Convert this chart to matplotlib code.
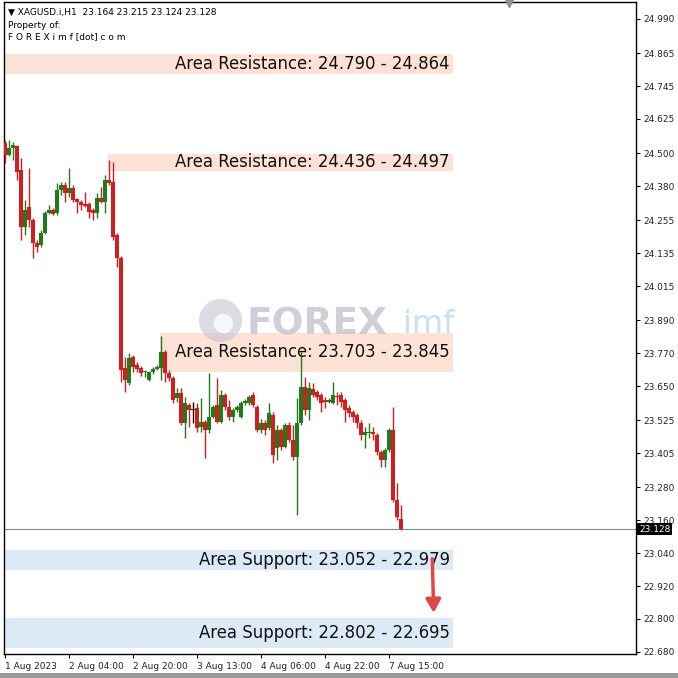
import numpy as np
import matplotlib
matplotlib.use("Agg")
import matplotlib.pyplot as plt
from matplotlib.patches import Rectangle

# hourly candles XAGUSD.i H1, 1 Aug 12:00 .. 7 Aug 18:00
opens = [24.537, 24.494, 24.519, 24.526, 24.439, 24.231, 24.304, 24.256, 24.172, 24.165,
         24.209, 24.281, 24.293, 24.281, 24.366, 24.384, 24.355, 24.373, 24.333, 24.322,
         24.315, 24.315, 24.293, 24.281, 24.337, 24.322, 24.402, 24.395, 24.202, 24.118,
         23.716, 23.661, 23.756, 23.727, 23.716, 23.702, 23.672, 23.702, 23.712, 23.716,
         23.774, 23.698, 23.680, 23.607, 23.625, 23.515, 23.581, 23.563, 23.570, 23.501,
         23.519, 23.490, 23.537, 23.581, 23.519, 23.618, 23.574, 23.537, 23.563, 23.537,
         23.588, 23.588, 23.618, 23.574, 23.490, 23.515, 23.497, 23.545, 23.424, 23.490,
         23.428, 23.508, 23.453, 23.391, 23.515, 23.647, 23.563, 23.639, 23.629, 23.618,
         23.599, 23.592, 23.588, 23.614, 23.618, 23.599, 23.570, 23.556, 23.545, 23.515,
         23.472, 23.479, 23.482, 23.472, 23.409, 23.380, 23.417, 23.490, 23.234, 23.164]
highs = [24.548, 24.548, 24.541, 24.530, 24.483, 24.329, 24.446, 24.264, 24.183, 24.220,
         24.289, 24.311, 24.300, 24.391, 24.395, 24.395, 24.446, 24.384, 24.337, 24.329,
         24.359, 24.322, 24.300, 24.355, 24.377, 24.421, 24.475, 24.468, 24.209, 24.125,
         23.756, 23.771, 23.764, 23.738, 23.723, 23.709, 23.705, 23.720, 23.727, 23.833,
         23.782, 23.709, 23.687, 23.643, 23.643, 23.610, 23.588, 23.592, 23.588, 23.607,
         23.526, 23.698, 23.581, 23.680, 23.636, 23.625, 23.599, 23.570, 23.581, 23.596,
         23.603, 23.618, 23.629, 23.581, 23.530, 23.526, 23.588, 23.556, 23.508, 23.497,
         23.515, 23.519, 23.508, 23.607, 23.774, 23.683, 23.665, 23.661, 23.636, 23.625,
         23.610, 23.607, 23.665, 23.629, 23.629, 23.607, 23.581, 23.563, 23.552, 23.526,
         23.501, 23.515, 23.501, 23.479, 23.417, 23.424, 23.497, 23.574, 23.296, 23.215]
lows = [24.464, 24.490, 24.475, 24.402, 24.183, 24.202, 24.231, 24.118, 24.139, 24.158,
        24.205, 24.278, 24.274, 24.274, 24.348, 24.322, 24.340, 24.322, 24.281, 24.293,
        24.304, 24.264, 24.256, 24.264, 24.318, 24.281, 24.384, 24.183, 24.085, 23.665,
        23.629, 23.654, 23.702, 23.702, 23.687, 23.683, 23.669, 23.694, 23.709, 23.672,
        23.665, 23.669, 23.588, 23.592, 23.508, 23.461, 23.501, 23.515, 23.482, 23.482,
        23.388, 23.479, 23.533, 23.515, 23.515, 23.563, 23.526, 23.519, 23.556, 23.533,
        23.581, 23.581, 23.574, 23.482, 23.479, 23.472, 23.490, 23.369, 23.380, 23.417,
        23.424, 23.446, 23.380, 23.180, 23.508, 23.545, 23.526, 23.610, 23.599, 23.556,
        23.570, 23.588, 23.585, 23.581, 23.574, 23.519, 23.537, 23.519, 23.497, 23.453,
        23.424, 23.461, 23.453, 23.398, 23.355, 23.355, 23.409, 23.227, 23.161, 23.124]
closes = [24.494, 24.519, 24.530, 24.432, 24.231, 24.293, 24.256, 24.172, 24.158, 24.209,
          24.281, 24.293, 24.278, 24.366, 24.384, 24.355, 24.373, 24.329, 24.322, 24.311,
          24.307, 24.285, 24.281, 24.337, 24.322, 24.402, 24.391, 24.194, 24.118, 23.709,
          23.672, 23.753, 23.720, 23.712, 23.698, 23.705, 23.702, 23.712, 23.720, 23.774,
          23.698, 23.680, 23.599, 23.625, 23.515, 23.588, 23.563, 23.563, 23.497, 23.519,
          23.490, 23.537, 23.574, 23.519, 23.618, 23.574, 23.537, 23.563, 23.574, 23.588,
          23.596, 23.610, 23.581, 23.490, 23.515, 23.490, 23.552, 23.398, 23.490, 23.428,
          23.508, 23.453, 23.391, 23.515, 23.647, 23.563, 23.643, 23.618, 23.610, 23.588,
          23.592, 23.599, 23.618, 23.610, 23.592, 23.563, 23.552, 23.537, 23.515, 23.472,
          23.482, 23.482, 23.475, 23.409, 23.380, 23.417, 23.490, 23.234, 23.172, 23.128]

# date labels every 16 bars
time_labels = ["1 Aug 2023", "2 Aug 04:00", "2 Aug 20:00", "3 Aug 13:00",
               "4 Aug 06:00", "4 Aug 22:00", "7 Aug 15:00"]
time_label_bars = [0, 16, 32, 48, 64, 80, 96]

price_ticks = [24.990, 24.865, 24.745, 24.625, 24.500, 24.380, 24.255, 24.135, 24.015, 23.890,
               23.770, 23.650, 23.525, 23.405, 23.280, 23.160, 23.040, 22.920, 22.800, 22.680]

# support / resistance zones
zone_names = ["Area Resistance", "Area Resistance", "Area Resistance", "Area Support", "Area Support"]
zone_low = [24.790, 24.436, 23.703, 22.979, 22.695]
zone_high = [24.864, 24.497, 23.845, 23.052, 22.802]
zone_start = [-0.25, 25.75, 38.75, -0.25, -0.25]
zone_end = 112
last_price = 23.128

RED = "#d21e1e"
GREEN = "#1d7d1d"

fig = plt.figure(figsize=(6.78, 6.78), dpi=100)
ax = fig.add_axes([4/678, 1 - 654/678, 632/678, 652/678])

# zones
for nm, lo, hi, st in zip(zone_names, zone_low, zone_high, zone_start):
    col = "#fde2d5" if "Resistance" in nm else "#dceaf8"
    ax.add_patch(Rectangle((st, lo), zone_end - st, hi - lo, facecolor=col, edgecolor="none", zorder=1))

# watermark
ax.plot([53.75], [23.89], marker="o", markersize=31, color="#c4c5d3", alpha=0.6, zorder=1.5,
        markeredgewidth=0)
ax.plot([54.5], [23.88], marker="o", markersize=14, color="white", alpha=0.8, zorder=1.6,
        markeredgewidth=0)
ax.text(60.5, 23.875, "FOREX", fontsize=27, fontweight="bold", color="#b5b7c6", alpha=0.65,
        ha="left", va="center", zorder=1.5, family="DejaVu Sans")
ax.text(99.5, 23.875, "imf", fontsize=23, color="#a8d0f0", alpha=0.65, ha="left", va="center",
        zorder=1.5, family="DejaVu Sans")

for nm, lo, hi in zip(zone_names, zone_low, zone_high):
    if "Resistance" in nm:
        txt = "%s: %.3f - %.3f" % (nm, lo, hi)
    else:
        txt = "%s: %.3f - %.3f" % (nm, hi, lo)
    ax.text(zone_end - 0.8, (lo + hi) / 2, txt, fontsize=11.9, ha="right", va="center",
            color="#111111", zorder=5, family="DejaVu Sans")

# candles
x = np.arange(len(opens))
for i in x:
    o, h, l, c = opens[i], highs[i], lows[i], closes[i]
    if c > o:
        col = GREEN
    elif c < o:
        col = RED
    else:
        col = "black"
    ax.plot([i, i], [l, h], color=col, lw=1, zorder=3, solid_capstyle="butt")
    body = max(abs(c - o), 0.002)
    ax.add_patch(Rectangle((i - 0.38, min(o, c)), 0.76, body, facecolor=col, edgecolor="none", zorder=3))

# last price line
ax.axhline(last_price, color="#7f8a99", lw=0.8, zorder=2)

# arrow
ax.annotate("", xy=(107.2, 22.812), xytext=(106.8, 23.03),
            arrowprops=dict(arrowstyle="-|>,head_length=0.8,head_width=0.45", color="#e04848", lw=2.5),
            zorder=6)

ax.set_xlim(-0.25, 157.75)
ax.set_ylim(22.672, 25.052)

ax.yaxis.tick_right()
ax.set_yticks(price_ticks)
ax.set_yticklabels(["%.3f" % p for p in price_ticks], fontsize=6.5, color="#222222")
ax.tick_params(axis="y", direction="out", length=3, width=0.8, pad=2)
ax.set_xticks(time_label_bars)
ax.set_xticklabels(time_labels, fontsize=6.5, ha="left", color="#222222")
ax.tick_params(axis="x", direction="out", length=3, width=0.8, pad=3)
for s in ax.spines.values():
    s.set_linewidth(1.0)
    s.set_color("black")

# current price label
ax.text(1.0 + 3/632, last_price, "%.3f" % last_price, transform=ax.get_yaxis_transform(),
        fontsize=6.5, color="white", ha="left", va="center",
        bbox=dict(facecolor="black", edgecolor="none", pad=1.2), zorder=7, clip_on=False)

# header text
fig.text(8/678, 1 - 12/678, "\u25bc XAGUSD.i,H1  23.164 23.215 23.124 23.128", fontsize=6.5, va="center")
fig.text(8/678, 1 - 25/678, "Property of:", fontsize=6.5, va="center")
fig.text(8/678, 1 - 37/678, "F O R E X i m f [dot] c o m", fontsize=6.5, va="center")

# shift marker at top
ax.plot([126], [25.048], marker="v", markersize=6, color="#8a8f96", clip_on=False, zorder=8)

# bottom frame strip
fig.patches.append(Rectangle((0, 0), 1, 5/678, transform=fig.transFigure, facecolor="#9a9a9a",
                             edgecolor="none"))

plt.savefig("out.png", dpi=100)
